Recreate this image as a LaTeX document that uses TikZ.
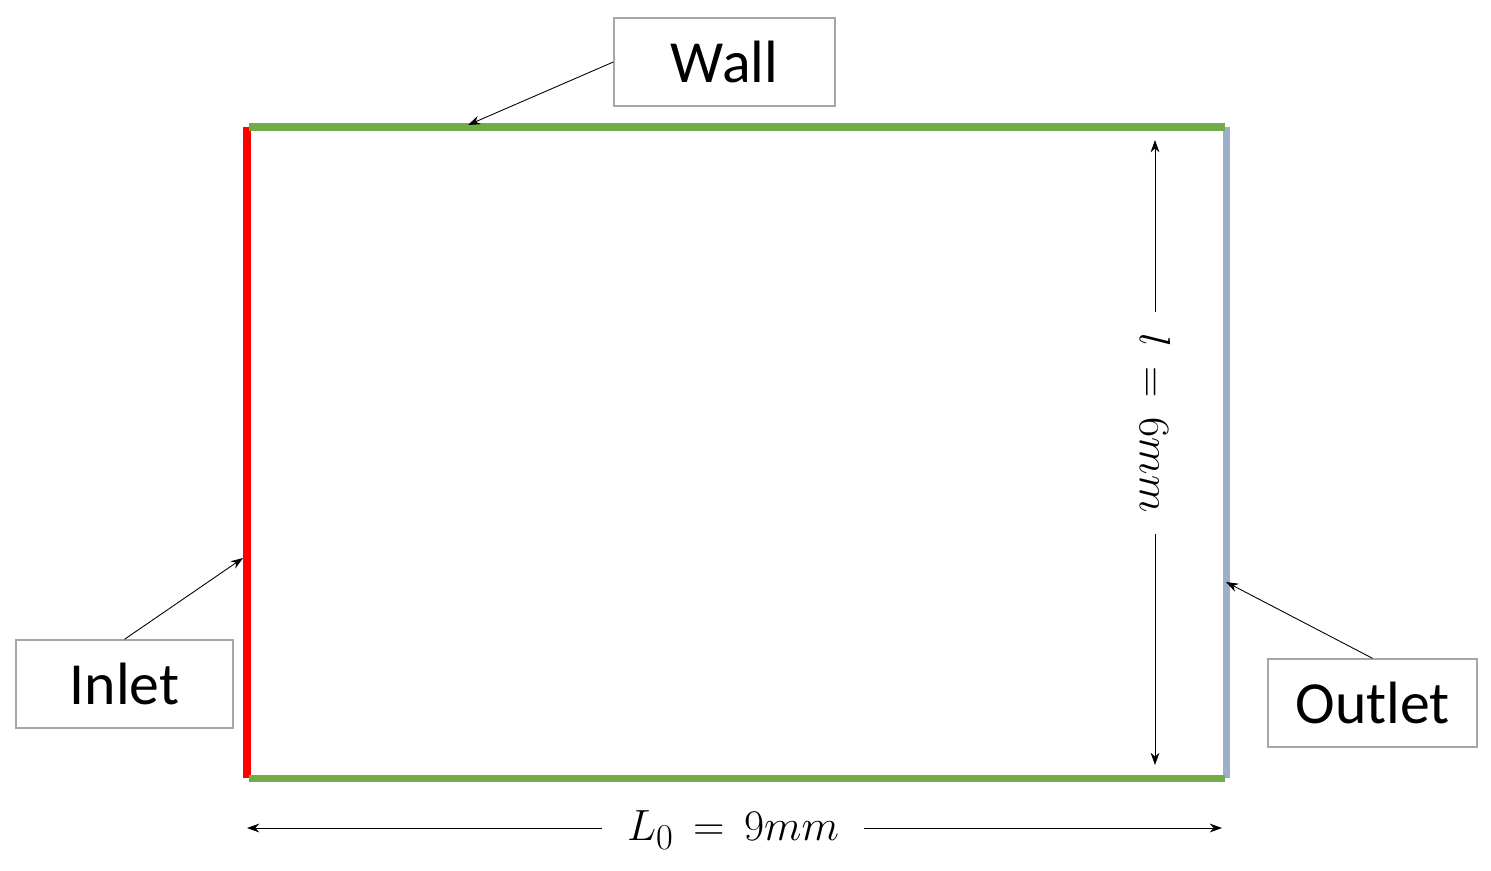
\documentclass[tikz,border=0pt]{standalone}
\usepackage{fontspec}
\setmainfont{Carlito}
\usetikzlibrary{arrows.meta}
\definecolor{wallg}{HTML}{70AD47}
\definecolor{outc}{HTML}{9DAFC8}
\begin{document}
\begin{tikzpicture}[x=0.02cm,y=-0.02cm,
  lbl/.style={draw=gray!70,line width=0.8pt,minimum width=#1*0.02cm,minimum height=88*0.02cm,inner sep=0pt,font=\fontsize{34}{40}\selectfont},
  ptr/.style={-{Stealth[length=7pt,width=5pt]},line width=0.5pt},
  dim/.style={{Stealth[length=7pt,width=5pt]}-{Stealth[length=7pt,width=5pt]},line width=0.5pt},
  mtx/.style={font=\fontsize{28}{32}\selectfont,fill=white,inner sep=4pt}]
\useasboundingbox (0,0) rectangle (1491,870);
\coordinate (tl) at (249,127); \coordinate (tr) at (1225,127);
\coordinate (bl) at (249,778); \coordinate (br) at (1225,778);
\draw[red,line width=4pt] (247,127) -- (247,778);
\draw[outc,line width=4pt] (1226,127) -- (1226,778);
\draw[wallg,line width=4pt] (tl) -- (tr);
\draw[wallg,line width=4pt] (bl) -- (br);
\node[lbl=221] (wall) at (724.5,62) {Wall};
\node[lbl=217] (inlet) at (124.5,684) {Inlet};
\node[lbl=209] (outlet) at (1372.5,703) {Outlet};
\coordinate (wa) at (468,125); \coordinate (ia) at (243,558); \coordinate (oa) at (1226,582);
\draw[ptr] (wall.west) -- (wa);
\draw[ptr] (inlet.north) -- (ia);
\draw[ptr] (outlet.north) -- (oa);
\coordinate (v1) at (1155,140); \coordinate (v2) at (1155,765);
\draw[dim] (v1) -- (v2);
\node[mtx,rotate=-90,inner xsep=12pt] (vl) at (1155,423) {$l\,=\,6mm$};
\coordinate (h1) at (247,828); \coordinate (h2) at (1222,828);
\draw[dim] (h1) -- (h2);
\node[mtx,inner xsep=14pt] (hl) at (733,830) {$L_0\,=\,9mm$};
\end{tikzpicture}
\end{document}
